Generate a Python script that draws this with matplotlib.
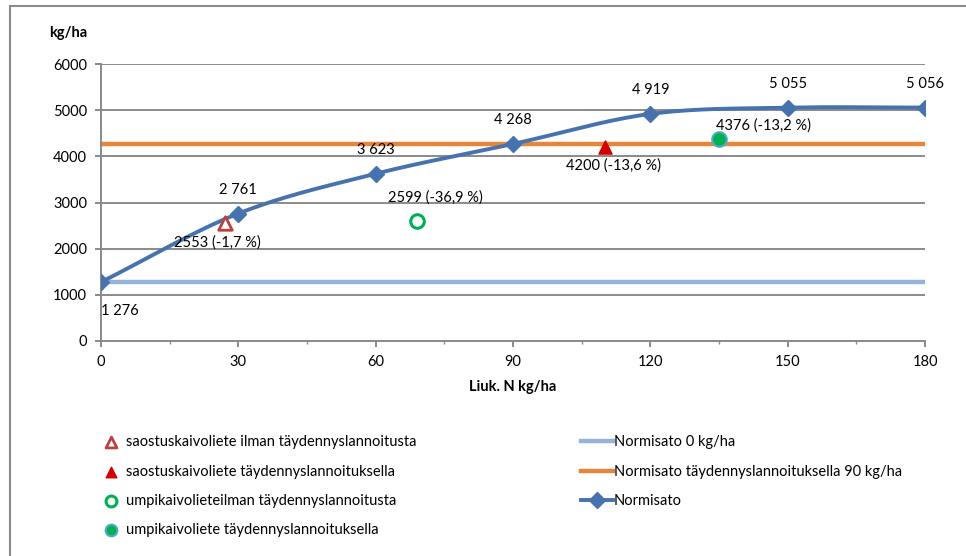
import numpy as np
import matplotlib.pyplot as plt
from matplotlib.lines import Line2D
from matplotlib.patches import Rectangle

# Normisato response curve
n_rates = [0, 30, 60, 90, 120, 150, 180]
normisato = [1276, 2761, 3623, 4268, 4919, 5055, 5056]
normisato_labels = ['1 276', '2 761', '3 623', '4 268', '4 919', '5 055', '5 056']

# reference levels
normisato_0 = 1276
normisato_90 = 4268

# slurry treatments: (N rate, yield)
saostus_ilman_x, saostus_ilman_y = [27], [2553]
saostus_tayd_x, saostus_tayd_y = [110], [4200]
umpi_ilman_x, umpi_ilman_y = [69], [2599]
umpi_tayd_x, umpi_tayd_y = [135], [4376]
point_labels = ['2553 (-1,7 %)', '4200 (-13,6 %)', '2599 (-36,9 %)', '4376 (-13,2 %)']

legend_names = ['saostuskaivoliete ilman täydennyslannoitusta',
                'saostuskaivoliete täydennyslannoituksella',
                'umpikaivolieteilman täydennyslannoitusta',
                'umpikaivoliete täydennyslannoituksella',
                'Normisato 0 kg/ha',
                'Normisato täydennyslannoituksella 90 kg/ha',
                'Normisato']


def smooth(x, y, steps=30):
    # catmull-rom style smoothing like a spreadsheet "smoothed line"
    x = np.asarray(x, float)
    y = np.asarray(y, float)
    px = np.concatenate([[2 * x[0] - x[1]], x, [2 * x[-1] - x[-2]]])
    py = np.concatenate([[2 * y[0] - y[1]], y, [2 * y[-1] - y[-2]]])
    xs, ys = [], []
    t = np.linspace(0, 1, steps)
    for i in range(1, len(px) - 2):
        p0, p1, p2, p3 = px[i - 1], px[i], px[i + 1], px[i + 2]
        q0, q1, q2, q3 = py[i - 1], py[i], py[i + 1], py[i + 2]
        # bezier control points, tension 1/6
        c1x, c1y = p1 + (p2 - p0) / 6, q1 + (q2 - q0) / 6
        c2x, c2y = p2 - (p3 - p1) / 6, q2 - (q3 - q1) / 6
        bx = (1 - t) ** 3 * p1 + 3 * (1 - t) ** 2 * t * c1x + 3 * (1 - t) * t ** 2 * c2x + t ** 3 * p2
        by = (1 - t) ** 3 * q1 + 3 * (1 - t) ** 2 * t * c1y + 3 * (1 - t) * t ** 2 * c2y + t ** 3 * q2
        xs.extend(bx)
        ys.extend(by)
    return np.array(xs), np.array(ys)


plt.rcParams['font.family'] = ['Lato', 'DejaVu Sans']
plt.rcParams['font.size'] = 10.5

fig = plt.figure(figsize=(9.66, 5.56), dpi=100)
fig.patches.append(Rectangle((10 / 966, -0.1), 1.2, 1 - 6 / 556 + 0.1, transform=fig.transFigure,
                             fill=False, edgecolor='#8c8c8c', linewidth=1.5))
ax = fig.add_axes([101 / 966, 1 - 341 / 556, 824 / 966, 277 / 556])

blue = '#4672AE'
lightblue = '#95B3D7'
orange = '#E5863A'
grid = '#8a8a8a'

ax.plot([0, 180], [normisato_0] * 2, color=lightblue, lw=3.2, zorder=2, solid_capstyle='butt')
ax.plot([0, 180], [normisato_90] * 2, color=orange, lw=3.2, zorder=2, solid_capstyle='butt')
sx, sy = smooth(n_rates, normisato)
ax.plot(sx, sy, color=blue, lw=2.8, zorder=3)
ax.plot(n_rates, normisato, ls='none', marker='D', color=blue, ms=8.5, zorder=4)

h1 = ax.scatter(saostus_ilman_x, saostus_ilman_y, marker='^', s=95, facecolor='white',
                edgecolor='#B9413E', linewidth=2, zorder=5)
h2 = ax.scatter(saostus_tayd_x, saostus_tayd_y, marker='^', s=90, color='#D40000', zorder=5)
h3 = ax.scatter(umpi_ilman_x, umpi_ilman_y, marker='o', s=95, facecolor='white',
                edgecolor='#00B050', linewidth=2.2, zorder=5)
h4 = ax.scatter(umpi_tayd_x, umpi_tayd_y, marker='o', s=110, facecolor='#00B050',
                edgecolor='#4BACC6', linewidth=1.5, zorder=5)

# value labels on the curve
for i, (x, y, lab) in enumerate(zip(n_rates, normisato, normisato_labels)):
    if i == 0:
        ax.annotate(lab, (x, y), xytext=(19, -29), textcoords='offset pixels', ha='center', va='center')
    else:
        ax.annotate(lab, (x, y), xytext=(0, 24), textcoords='offset pixels', ha='center', va='center')

ax.annotate(point_labels[0], (saostus_ilman_x[0], saostus_ilman_y[0]), xytext=(-7, -19),
            textcoords='offset pixels', ha='center', va='center')
ax.annotate(point_labels[1], (saostus_tayd_x[0], saostus_tayd_y[0]), xytext=(9, -18),
            textcoords='offset pixels', ha='center', va='center')
ax.annotate(point_labels[2], (umpi_ilman_x[0], umpi_ilman_y[0]), xytext=(19, 23),
            textcoords='offset pixels', ha='center', va='center')
ax.annotate(point_labels[3], (umpi_tayd_x[0], umpi_tayd_y[0]), xytext=(45, 13),
            textcoords='offset pixels', ha='center', va='center')

ax.set_xlim(0, 180)
ax.set_ylim(0, 6000)
ax.set_xticks(n_rates)
ax.set_xticks(np.arange(15, 180, 30), minor=True)
ax.set_yticks(np.arange(0, 6001, 1000))
ax.grid(axis='y', color=grid, lw=1.4)
ax.set_axisbelow(True)
for s in ['top', 'right']:
    ax.spines[s].set_visible(False)
for s in ['left', 'bottom']:
    ax.spines[s].set_color(grid)
    ax.spines[s].set_linewidth(1.4)
ax.tick_params(which='major', length=4, width=1.4, color=grid, pad=6)
ax.tick_params(which='minor', axis='x', length=2, width=1, color=grid)

ax.set_xlabel('Liuk. N kg/ha', fontweight='bold', labelpad=8)
fig.text(68 / 966, 1 - 33 / 556, 'kg/ha', fontweight='bold', ha='center', va='center')

left = [h1, h2, h3, h4]
fig.legend(left, legend_names[:4], loc='upper left', bbox_to_anchor=(96 / 966, 1 - 428 / 556),
           frameon=False, handlelength=1.0, handletextpad=0.55, labelspacing=1.05, borderpad=0,
           markerscale=0.8)
right = [Line2D([], [], color=lightblue, lw=3.2),
         Line2D([], [], color=orange, lw=3.2),
         Line2D([], [], color=blue, lw=2.8, marker='D', ms=8)]
fig.legend(right, legend_names[4:], loc='upper left', bbox_to_anchor=(574 / 966, 1 - 428 / 556),
           frameon=False, handlelength=2.2, handletextpad=0.05, labelspacing=1.05, borderpad=0)

fig.savefig('out.png', dpi=100)
